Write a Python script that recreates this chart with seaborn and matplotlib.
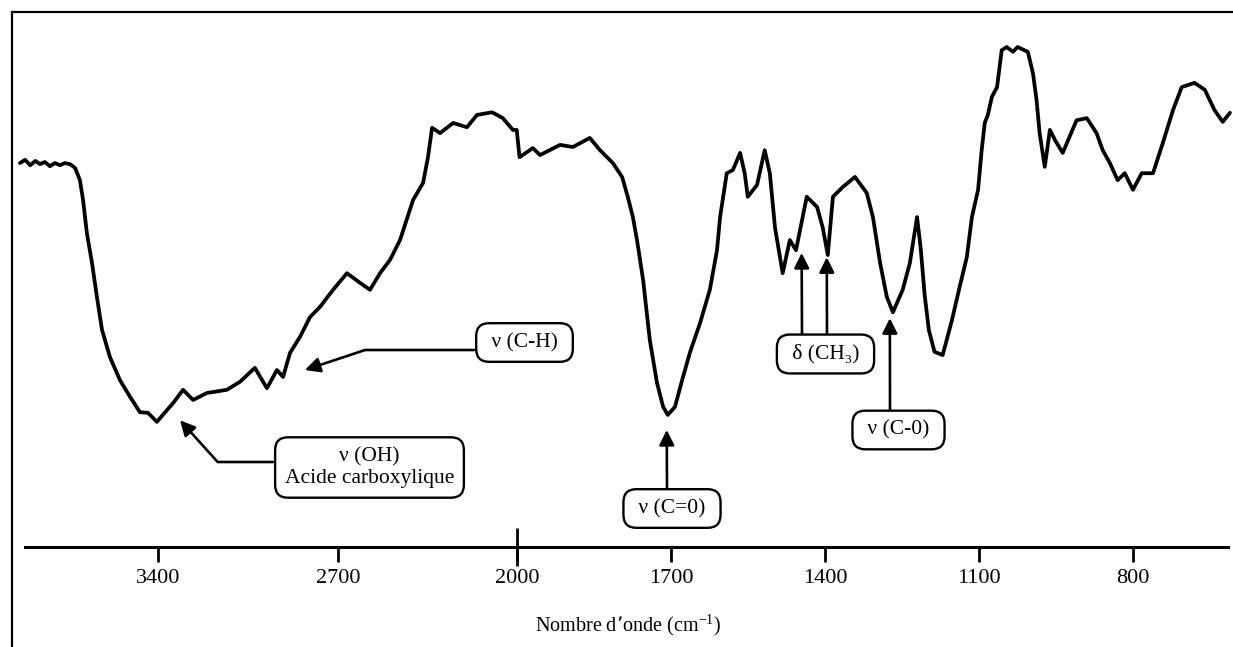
import numpy as np
import pandas as pd
import matplotlib
matplotlib.use("Agg")
import matplotlib.pyplot as plt
import seaborn as sns

# ---------------- data ----------------
wavenumber = [3940, 3920, 3900, 3880, 3862, 3843, 3823, 3804, 3784, 3765, 3745, 3725,
              3706, 3694, 3679, 3659, 3640, 3620, 3589, 3550, 3511, 3472, 3441, 3406,
              3374, 3343, 3304, 3265, 3211, 3133, 3082, 3024, 2977, 2938, 2914, 2887,
              2848, 2809, 2770, 2719, 2665, 2614, 2575, 2536, 2497, 2458, 2407, 2368,
              2349, 2333, 2302, 2251, 2197, 2158, 2099, 2057, 2018, 2003, 1996, 1970,
              1956, 1917, 1892, 1859, 1839, 1814, 1796, 1785, 1775, 1767, 1755, 1742,
              1728, 1716, 1707, 1693, 1679, 1664, 1644, 1625, 1611, 1605, 1592, 1580,
              1566, 1557, 1551, 1533, 1518, 1508, 1498, 1483, 1469, 1457, 1449, 1436,
              1416, 1405, 1395, 1385, 1366, 1342, 1319, 1307, 1293, 1280, 1268, 1249,
              1235, 1221, 1214, 1206, 1198, 1187, 1171, 1153, 1138, 1124, 1114, 1102,
              1095, 1089, 1083, 1075, 1065, 1060, 1056, 1046, 1034, 1025, 1005, 995,
              988, 982, 972, 962, 952, 937, 910, 890, 871, 859, 845, 830,
              816, 800, 783, 761, 742, 722, 705, 680, 660, 641, 625, 611]
transmittance = [71.8, 72.4, 71.4, 72.2, 71.6, 72.0, 71.2, 71.8, 71.4, 71.8, 71.6, 70.9,
                 68.6, 64.9, 58.7, 53.1, 46.8, 40.6, 35.5, 31.2, 28.1, 25.2, 25.1, 23.4,
                 25.2, 26.9, 29.4, 27.5, 28.8, 29.4, 30.9, 33.5, 29.7, 33.1, 31.8, 36.3,
                 39.3, 43.0, 44.9, 48.1, 51.2, 49.4, 48.1, 51.2, 53.7, 57.4, 64.9, 68.1,
                 72.9, 78.4, 77.4, 79.3, 78.5, 80.8, 81.3, 80.2, 78.0, 78.0, 72.9, 74.6,
                 73.3, 75.2, 74.8, 76.5, 74.2, 71.8, 69.2, 65.5, 61.7, 57.4, 49.9, 38.7,
                 30.7, 26.2, 24.7, 26.2, 31.2, 36.3, 41.9, 48.1, 55.5, 61.7, 69.9, 70.5,
                 73.7, 69.9, 65.5, 67.7, 74.2, 69.9, 59.8, 51.2, 57.4, 55.5, 59.3, 65.5,
                 63.6, 59.8, 54.6, 65.5, 67.3, 69.2, 66.2, 61.7, 53.1, 46.8, 43.9, 48.1,
                 53.1, 61.7, 56.0, 47.0, 40.6, 36.5, 35.9, 42.4, 48.6, 54.2, 61.7, 66.8,
                 74.2, 79.3, 80.8, 84.2, 86.0, 89.8, 92.9, 93.5, 92.6, 93.5, 92.6, 88.6,
                 83.6, 77.4, 71.1, 78.0, 76.1, 73.7, 79.8, 80.2, 77.4, 74.2, 71.8, 68.6,
                 69.9, 66.8, 69.9, 69.9, 75.5, 81.7, 86.0, 86.8, 85.5, 81.7, 79.5, 81.2]

tick_values = [3400, 2700, 2000, 1700, 1400, 1100, 800]
tick_labels = ["3400", "2700", "2000", "1700", "1400", "1100", "800"]
x_label = "Nombre d\u2019onde (cm$^{-1}$)"

# text boxes
box_labels = ["\u03bd (C-H)", "\u03bd (OH)\nAcide carboxylique", "\u03bd (C=0)",
              "\u03b4 (CH\u2083)", "\u03bd (C-0)"]
# arrows: peak wavenumber and transmittance at the arrow tip
arrow_wavenumber = [2829, 3316, 1709, 1446, 1397, 1274]
arrow_transmittance = [33.1, 23.7, 21.9, 55.0, 54.2, 42.8]

# ---------------- style ----------------
sns.set_style("white")
plt.rcParams["font.family"] = ["Liberation Serif", "DejaVu Serif"]
plt.rcParams["mathtext.default"] = "regular"
plt.rcParams["text.color"] = "black"
plt.rcParams["axes.labelcolor"] = "black"

W, H = 1233, 647
fig = plt.figure(figsize=(W / 100, H / 100), dpi=100)
ax = fig.add_axes([12 / W, 0, 1221 / W, 635 / H])

df = pd.DataFrame({"wavenumber": wavenumber, "T": transmittance})


def fwd(w):
    w = np.asarray(w, dtype=float)
    return np.where(w > 2000, 2000 + (w - 2000) / 2.0, w)


def inv(t):
    t = np.asarray(t, dtype=float)
    return np.where(t > 2000, 2000 + (t - 2000) * 2.0, t)


ax.set_xscale("function", functions=(fwd, inv))
sns.lineplot(data=df, x="wavenumber", y="T", ax=ax, color="black", lw=2.7,
             estimator=None, sort=False, solid_joinstyle="round")
ax.set_xlim(3971, 605)
ax.set_ylim(-18.7, 100.05)

# spines
ax.spines["right"].set_visible(False)
ax.spines["top"].set_linewidth(1.6)
ax.spines["left"].set_linewidth(1.6)
ax.spines["bottom"].set_position(("data", 0))
ax.spines["bottom"].set_bounds(615, 3920)
ax.spines["bottom"].set_linewidth(2.2)
for s in ax.spines.values():
    s.set_color("black")

ax.set_yticks([])
ax.set_ylabel("")
ax.xaxis.remove_overlapping_locs = False
ax.set_xticks(tick_values)
ax.set_xticklabels(tick_labels)
ax.set_xticks([2000], minor=True)
ax.set_xticklabels([""], minor=True)
ax.tick_params(axis="x", which="both", bottom=True, top=False)
ax.tick_params(axis="x", which="major", direction="out", length=11, width=2,
               pad=5, labelsize=16, colors="black")
ax.tick_params(axis="x", which="minor", direction="inout", length=28, width=2,
               colors="black")
ax.set_xlabel(x_label, fontsize=14.5, color="black")
ax.xaxis.set_label_coords(0.505, 0.054)

# ---- layout of the annotations (figure pixels measured from the top) ----
box_centres = [(524.5, 342.5), (369.5, 467.5), (672, 508.5), (825.5, 354), (898.5, 430)]
arrow_starts = [(474, 350), (273, 462), (667, 490), (802, 336), (827, 336), (890, 412)]
connections = ["angle,angleA=0,angleB=18.4,rad=0", "angle,angleA=0,angleB=-47.9,rad=0",
               "arc3", "arc3", "arc3", "arc3"]

for w, t, (sx, sy), cs in zip(arrow_wavenumber, arrow_transmittance, arrow_starts, connections):
    ax.annotate("", xy=(w, t), xycoords="data",
                xytext=(sx, H - sy), textcoords="figure pixels",
                arrowprops=dict(arrowstyle="-|>,head_length=0.6,head_width=0.3",
                                mutation_scale=15, color="black", lw=1.9,
                                shrinkA=0, shrinkB=0, connectionstyle=cs))

for lab, (cx, cy) in zip(box_labels, box_centres):
    multi = "\n" in lab
    padded = "\n".join((" " + part + " ") if not multi else part for part in lab.split("\n"))
    ax.annotate(padded, xy=(cx, H - cy), xycoords="figure pixels",
                ha="center", va="center", multialignment="center",
                fontsize=15.5, color="black", linespacing=1.2, zorder=5,
                bbox=dict(boxstyle="round,pad=0.45,rounding_size=0.6",
                          fc="white", ec="black", lw=1.7))

fig.savefig("out.png", dpi=100, facecolor="white")
